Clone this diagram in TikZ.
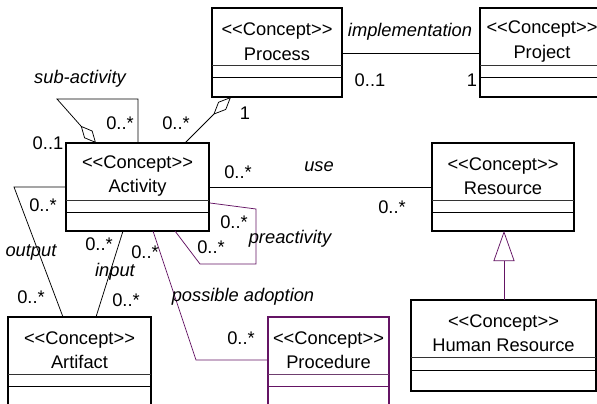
\documentclass[tikz,border=0pt]{standalone}
\usepackage{fontspec}
\setmainfont{Liberation Sans}
\usetikzlibrary{arrows.meta}
\definecolor{umlpurple}{RGB}{100,20,100}
\newcommand{\stereo}{<\kern0pt<Concept>\kern0pt>}
\newcommand{\umlclass}[9]{%
  \node[classbox, draw=#9, anchor=north west, minimum width={(#4-#2)*1pt}, minimum height={(#5-#3)*1pt}] (#1) at (#2,#3) {};
  \node[classtext] (#1-t) at ({(#2+#4)/2},{(#3+#6)/2+4.5}) {\stereo\\#8};
  \draw[divider, draw=#9!60!gray] (#2,#6) -- (#4,#6);
  \draw[divider, draw=#9] (#2,#7) -- (#4,#7);
}
\begin{document}
\begin{tikzpicture}[x=1pt,y=-1pt,
  classbox/.style={rectangle, line width=1.3pt, inner sep=0pt, outer sep=0pt, fill=white},
  classtext/.style={align=center, inner sep=0pt, font=\fontsize{18.3}{24.5}\selectfont},
  divider/.style={line width=1pt},
  conn/.style={line width=0.75pt, draw=black},
  pconn/.style={line width=0.75pt, draw=umlpurple},
  lbl/.style={inner sep=0pt, font=\fontsize{18.3}{22}\selectfont},
  role/.style={inner sep=0pt, font=\fontsize{18.3}{22}\selectfont\itshape}]
\useasboundingbox (0,0) rectangle (597,404);
\fill[white] (0,0) rectangle (597,404);

% classes
\umlclass{proc}{212}{8}{342}{97}{66}{78}{Process}{black}
\umlclass{proj}{480}{8}{604}{97}{66}{78}{Project}{black}
\umlclass{act}{66}{143}{209}{231}{200}{212}{Activity}{black}
\umlclass{res}{432}{143}{574}{231}{200}{212}{Resource}{black}
\umlclass{art}{8}{317}{151}{412}{374}{386}{Artifact}{black}
\umlclass{procd}{268}{317}{389}{412}{374}{386}{Procedure}{umlpurple}
\umlclass{hr}{411}{300}{596}{391}{357}{370}{Human Resource}{black}

% implementation
\draw[conn] (proc.east |- 0,53) -- (proj.west |- 0,53);
\node[role] (l-impl) at (410,32) {implementation};
\node[lbl] (l-impl1) at (370,80) {0..1};
\node[lbl] (l-impl2) at (472,80) {1};

% process aggregation
\coordinate (pa) at (231,97);
\coordinate (pb) at (185,143);
\draw[conn, {Diamond[open,length=25pt,width=11pt]}-] (pa) -- (pb);
\node[lbl] (l-pa1) at (245,113) {1};
\node[lbl] (l-pa2) at (176,123) {0..*};

% sub-activity
\coordinate (sa1) at (138,143);
\coordinate (sa2) at (138,99);
\coordinate (sa3) at (57,99);
\coordinate (sa4) at (96,143);
\draw[conn, -{Diamond[open,length=23pt,width=11pt]}] (sa1) -- (sa2) -- (sa3) -- (sa4);
\node[role] (l-sub) at (80,79) {sub-activity};
\node[lbl] (l-sub1) at (120,123) {0..*};
\node[lbl] (l-sub2) at (48,143) {0..1};

% use
\draw[conn] (act.east |- 0,187) -- (res.west |- 0,187);
\node[lbl] (l-use1) at (238,172) {0..*};
\node[role] (l-use) at (319,167) {use};
\node[lbl] (l-use2) at (392,207) {0..*};

% generalization
\draw[pconn, -{Triangle[open,length=30pt,width=21pt]}] (hr.north -| 504,0) -- (res.south -| 504,0);

% preactivity
\coordinate (pr1) at (210,203);
\coordinate (pr2) at (256,209);
\coordinate (pr3) at (256,264);
\coordinate (pr4) at (200,264);
\coordinate (pr5) at (175,231);
\draw[pconn] (pr1) -- (pr2) -- (pr3) -- (pr4) -- (pr5);
\node[lbl] (l-pr1) at (234,222) {0..*};
\node[lbl] (l-pr2) at (211,247) {0..*};
\node[role] (l-pre) at (290,239) {preactivity};

% possible adoption
\coordinate (ad1) at (153,231);
\coordinate (ad2) at (196,360);
\draw[pconn] (ad1) -- (ad2) -- (procd.west |- ad2);
\node[lbl] (l-ad1) at (145,252) {0..*};
\node[role] (l-ad) at (243,297) {possible adoption};
\node[lbl] (l-ad2) at (241,338) {0..*};

% output
\coordinate (ou1) at (14,187);
\coordinate (ou2) at (63,317);
\draw[conn] (act.west |- ou1) -- (ou1) -- (ou2);
\node[lbl] (l-ou1) at (43,205) {0..*};
\node[role] (l-ou) at (31,252) {output};
\node[lbl] (l-ou2) at (31,297) {0..*};

% input
\coordinate (in1) at (123,231);
\coordinate (in2) at (96,317);
\draw[conn] (in1) -- (in2);
\node[lbl] (l-in1) at (99,244) {0..*};
\node[role] (l-in) at (115,272) {input};
\node[lbl] (l-in2) at (126,300) {0..*};
\end{tikzpicture}
\end{document}
